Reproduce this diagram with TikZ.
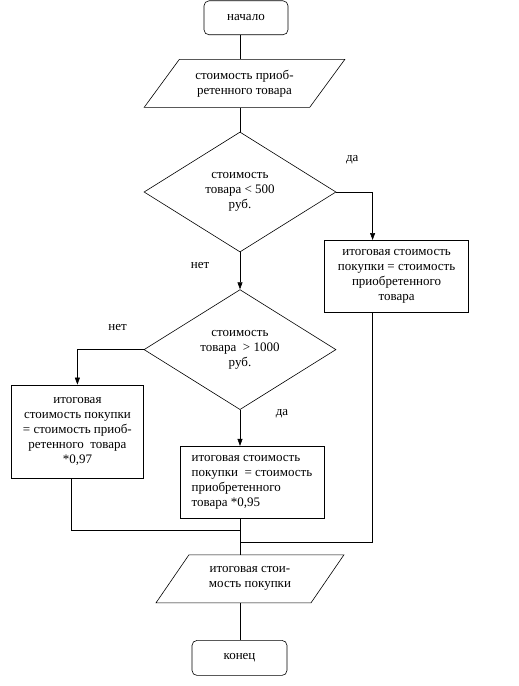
\documentclass[tikz,border=0pt]{standalone}
\usepackage{fontspec}
\setmainfont{Liberation Serif}
\usetikzlibrary{shapes.geometric, arrows.meta, positioning}
\tikzstyle{terminal} = [rectangle, rounded corners=5pt, minimum width=84pt, minimum height=34pt, text centered, draw=black]
\tikzstyle{io} = [trapezium, trapezium left angle=50, trapezium right angle=130, trapezium stretches=true, minimum width=201pt, minimum height=48pt, align=center, draw=black]
\tikzstyle{decision} = [diamond, aspect=1.6, minimum width=192pt, minimum height=120pt, inner sep=0pt, align=center, draw=black]
\tikzstyle{process} = [rectangle, minimum width=144pt, minimum height=72pt, align=center, draw=black]
\tikzstyle{arrow} = [-{Triangle[length=7pt,width=5pt]}]

\begin{document}
\begin{tikzpicture}[x=1pt, y=1pt, line width=0.6pt, font=\fontsize{13}{15}\selectfont]
    \useasboundingbox (0,0) rectangle (519,-686);
    \node[decision] (cost500) at (240,-192) {стоимость\\товара < 500\\руб.};
    \node[io, above=24pt of cost500, xshift=4.5pt] (input) {стоимость приоб-\\ретенного товара};
    \node[terminal, above=24pt of input, xshift=1.5pt] (start) {начало};
    \node[process, below right=48pt and -12pt of cost500.east] (total500) {итоговая стоимость\\покупки = стоимость\\приобретенного\\товара};
    \node[decision, below=37pt of cost500] (cost1000) {стоимость\\товара\ \ > 1000\\руб.};
    \node[process, minimum width=132pt, minimum height=93pt, below left=35pt and 0pt of cost1000.west] (total97) {итоговая\\стоимость покупки\\= стоимость приоб-\\ретенного\ \ товара\\*0,97};
    \node[process, align=left, below=36pt of cost1000, xshift=12pt] (total95) {итоговая стоимость\\покупки\ \ = стоимость\\приобретенного\\товара *0,95};
    \node[io, trapezium left angle=52, trapezium right angle=128, minimum width=188pt, below=36pt of total95, xshift=-2pt] (output) {итоговая стои-\\мость покупки};
    \node[terminal, minimum width=95pt, minimum height=35pt, below=37pt of output, xshift=-10.5pt] (finish) {конец};

    % labels of the branches
    \node (yes500) at ([xshift=16pt,yshift=32pt]cost500.east) {да};
    \node (no500) at ([xshift=-40pt,yshift=-13pt]cost500.south) {нет};
    \node (no1000) at ([xshift=-26pt,yshift=22pt]cost1000.west) {нет};
    \node (yes1000) at ([xshift=42pt,yshift=-4pt]cost1000.south) {да};

    \coordinate[below=12pt of total95.south -| cost1000.south] (join97);
    \coordinate[below=24pt of total95.south -| cost1000.south] (join500);

    \draw (start.south -| cost500.north) -- (input.north -| cost500.north);
    \draw (input.south -| cost500.north) -- (cost500.north);
    \draw[arrow] (cost500.east) -| ([xshift=-24pt]total500.north);
    \draw[arrow] (cost500.south) -- (cost1000.north);
    \draw[arrow] (cost1000.west) -| (total97.north);
    \draw[arrow] (cost1000.south) -- (cost1000.south |- total95.north);
    \draw ([xshift=-6pt]total97.south) |- (join97);
    \draw ([xshift=-24pt]total500.south) |- (join500);
    \draw (total95.south -| cost1000.south) -- (output.north -| cost1000.south);
    \draw (output.south -| cost1000.south) -- (finish.north -| cost1000.south);
\end{tikzpicture}
\end{document}
